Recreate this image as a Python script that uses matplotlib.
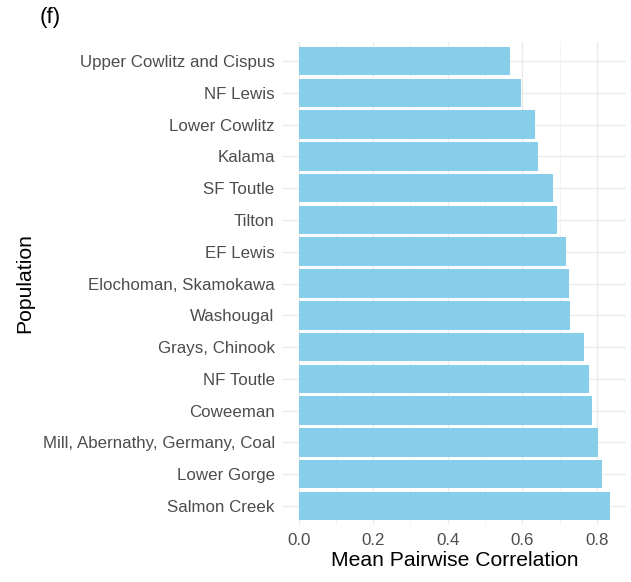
import matplotlib
matplotlib.use("Agg")
import matplotlib.pyplot as plt
from matplotlib.ticker import MultipleLocator

populations = ["Upper Cowlitz and Cispus", "NF Lewis", "Lower Cowlitz", "Kalama",
               "SF Toutle", "Tilton", "EF Lewis", "Elochoman, Skamokawa", "Washougal",
               "Grays, Chinook", "NF Toutle", "Coweeman", "Mill, Abernathy, Germany, Coal",
               "Lower Gorge", "Salmon Creek"]
values = [0.567, 0.596, 0.635, 0.642, 0.683, 0.694, 0.718, 0.725, 0.728,
          0.764, 0.779, 0.786, 0.804, 0.813, 0.836]
xticks = [0.0, 0.2, 0.4, 0.6, 0.8]

plt.rcParams['font.family'] = ['Liberation Sans', 'DejaVu Sans']

W, H = 631, 582
fig = plt.figure(figsize=(W/100, H/100), dpi=100)
left, right, top, bottom = 283, 626, 42, 525
ax = fig.add_axes([left/W, 1-bottom/H, (right-left)/W, (bottom-top)/H])

n = len(populations)
ypos = list(range(n, 0, -1))
ax.barh(ypos, values, height=0.9, color="#87CEEB", zorder=2)

vmax = max(values)
ax.set_xlim(-0.05*vmax, vmax*1.05)
ax.set_ylim(0.4, n+0.6)
ax.set_yticks(ypos)
ax.set_yticklabels(populations)
ax.set_xticks(xticks)
ax.set_xticklabels([f"{t:.1f}" for t in xticks])
ax.xaxis.set_minor_locator(MultipleLocator(0.1))

ax.grid(True, which='major', color="#EBEBEB", linewidth=1.0, zorder=0)
ax.grid(True, which='minor', axis='x', color="#F2F2F2", linewidth=0.6, zorder=0)
ax.set_axisbelow(True)
for s in ax.spines.values():
    s.set_visible(False)
ax.tick_params(axis='both', which='both', length=0, labelsize=12.2, labelcolor="#4D4D4D")
ax.tick_params(axis='y', pad=6)
ax.tick_params(axis='x', pad=6)

ax.set_xlabel("Mean Pairwise Correlation", fontsize=15.2, color="black", labelpad=2)
ax.set_ylabel("Population", fontsize=15.2, color="black", labelpad=6)

fig.text(40/W, 1-18/H, "(f)", fontsize=16, ha='left', va='center')

fig.savefig("out.png", dpi=100, facecolor="white")
